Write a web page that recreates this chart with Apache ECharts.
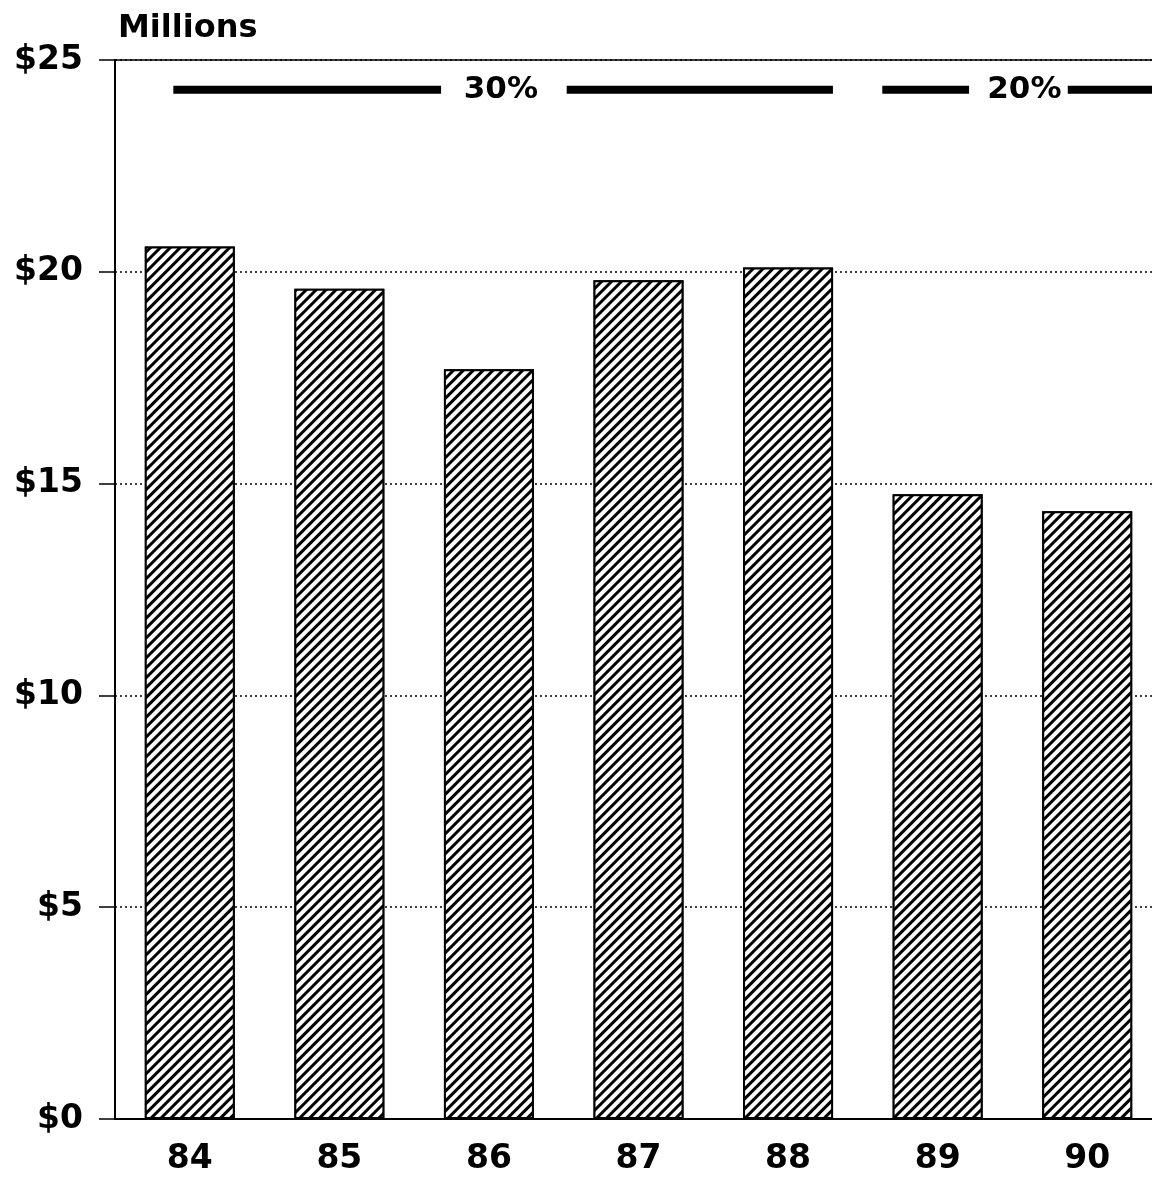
<!DOCTYPE html>
<html>
<head>
<meta charset="utf-8">
<script src="https://cdn.jsdelivr.net/npm/echarts@6/dist/echarts.min.js"></script>
<style>
html,body{margin:0;padding:0;background:#fff;}
#chart{width:1152px;height:1177px;}
</style>
</head>
<body>
<div id="chart"></div>
<script>
// ---- data ----
const years = ['84', '85', '86', '87', '88', '89', '90'];
const revenue = [20.6, 19.6, 17.7, 19.8, 20.1, 14.75, 14.35];
const yTickLabels = ['$0', '$5', '$10', '$15', '$20', '$25'];
const yAxisTitle = 'Millions';
// rate period bands drawn near the top (x in category units, 0..7)
const rateNames = ['30%', '20%'];
const rateLabelX = [2.58, 6.08];
const rateSegments = [[0.39, 2.18], [3.02, 4.8], [5.13, 5.71], [6.37, 7.0]];
const rateLevel = 24.3;

const FONT = 'DejaVu Sans';
const chart = echarts.init(document.getElementById('chart'), null, {renderer: 'canvas'});

const segSeriesData = [];
rateSegments.forEach(s => { segSeriesData.push([s[0], rateLevel], [s[1], rateLevel], '-'); });

chart.setOption({
  animation: false,
  backgroundColor: '#fff',
  grid: {left: 115, width: 1047, top: 60, bottom: 58, outerBoundsMode: 'none', containLabel: false, show: true, borderColor: '#000', borderWidth: 1.5, backgroundColor: 'transparent'},
  xAxis: [{
    type: 'category',
    data: years,
    axisLine: {lineStyle: {color: '#000', width: 2}},
    axisTick: {show: false},
    axisLabel: {color: '#000', fontFamily: FONT, fontWeight: 'bold', fontSize: 33, margin: 24}
  }, {
    type: 'value', min: 0, max: 7, show: false
  }],
  yAxis: {
    type: 'value', min: 0, max: 25, interval: 5,
    name: yAxisTitle,
    nameLocation: 'end',
    nameGap: 15,
    nameTextStyle: {color: '#000', fontFamily: FONT, fontWeight: 'bold', fontSize: 32, align: 'left', padding: [0, 0, 0, 3]},
    axisLine: {show: true, lineStyle: {color: '#000', width: 2}},
    axisTick: {show: true, inside: false, length: 16, lineStyle: {color: '#000', width: 1.5}},
    axisLabel: {
      color: '#000', fontFamily: FONT, fontWeight: 'bold', fontSize: 33, margin: 32,
      formatter: v => yTickLabels[Math.round(v / 5)]
    },
    splitLine: {show: true, lineStyle: {color: '#000', type: [2, 3], width: 1.5}}
  },
  series: [{
    type: 'bar',
    data: revenue,
    barWidth: 90,
    itemStyle: {
      color: '#fff',
      borderColor: '#000',
      borderWidth: 2,
      decal: {symbol: 'rect', symbolSize: 1, color: '#000', backgroundColor: '#fff', dashArrayX: [1, 0], dashArrayY: [3, 4], rotation: -Math.PI / 4}
    },
    z: 3
  }, {
    type: 'line',
    xAxisIndex: 1,
    data: segSeriesData,
    connectNulls: false,
    symbol: 'none',
    lineStyle: {color: '#000', width: 8, cap: 'butt'},
    z: 4
  }, {
    type: 'scatter',
    xAxisIndex: 1,
    symbolSize: 0,
    itemStyle: {color: '#000', opacity: 1},
    data: rateNames.map((n, i) => ({name: n, value: [rateLabelX[i], rateLevel]})),
    label: {show: true, position: 'inside', formatter: p => p.name, color: '#000', opacity: 1, fontFamily: FONT, fontWeight: 'bold', fontSize: 31, textBorderWidth: 0},
    z: 5
  }]
});
</script>
</body>
</html>
